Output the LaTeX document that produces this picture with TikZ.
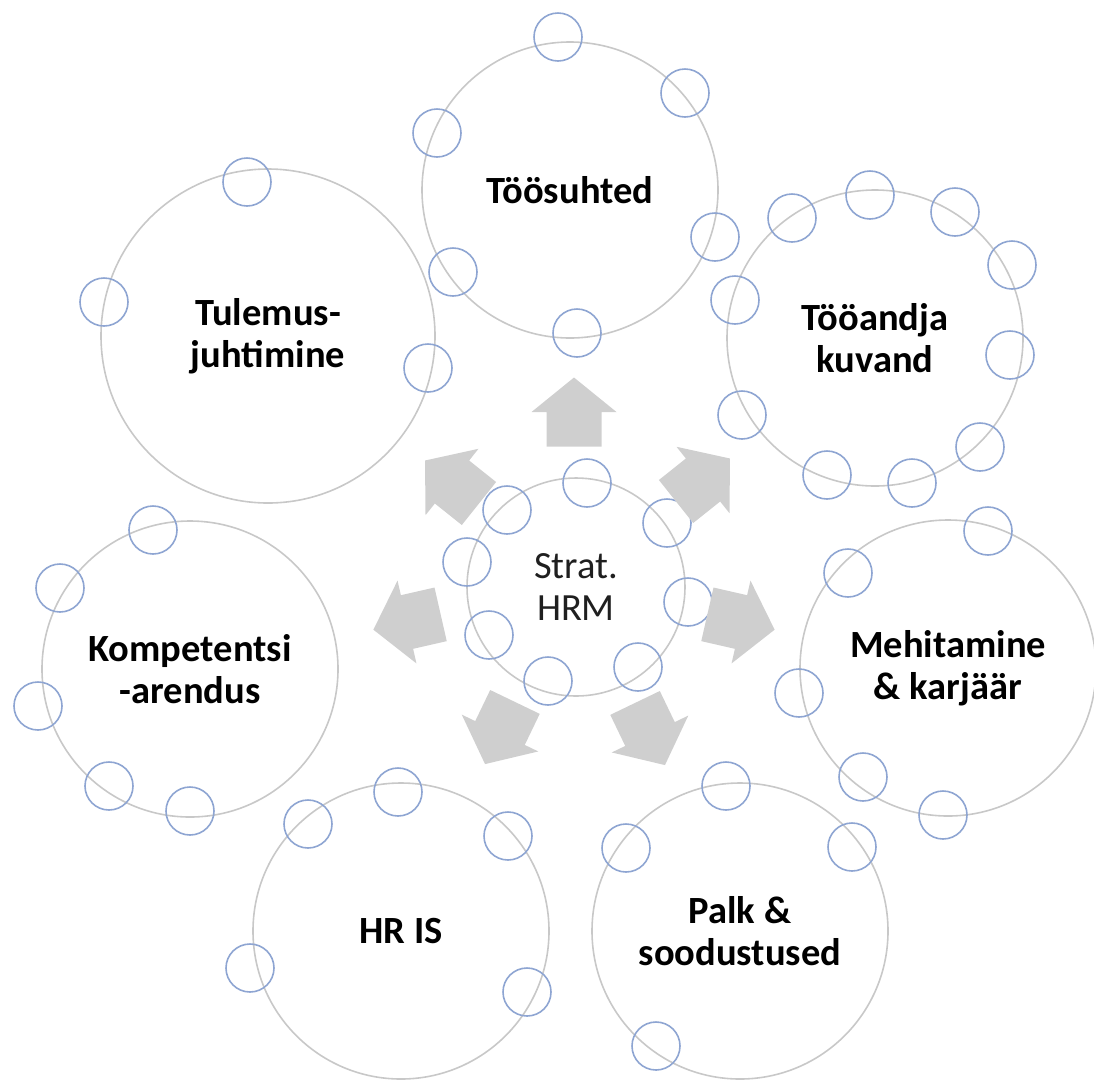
\documentclass[tikz,border=0pt]{standalone}
\usepackage{fontspec}
\setmainfont{Carlito}
\definecolor{ringgray}{HTML}{C8C8C8}
\definecolor{dotblue}{HTML}{8EA5D2}
\definecolor{arrowgray}{HTML}{CFCFCF}
\begin{document}
\begin{tikzpicture}[x=1pt,yscale=-1,y=1pt,
  area/.style={circle, draw=ringgray, line width=1.6pt, minimum size=296pt,
    inner sep=0pt, align=center, text=black,
    font=\bfseries\fontsize{38.5}{42}\selectfont},
  core/.style={area, minimum size=218pt, text=black!88,
    font=\fontsize{38.5}{42}\selectfont},
  dot/.style={draw=dotblue, line width=1.6pt},
  blockarrow/.pic={\fill[arrowgray] (-34.5,-27.5) -- (0,-27.5) -- (0,-42.5)
    -- (34.5,0) -- (0,42.5) -- (0,27.5) -- (-34.5,27.5) -- cycle;}]
\useasboundingbox (0,0) rectangle (1094,1080);

% outer topic circles
\node[area] (suhted)  at (570,190) {Töösuhted};
\node[area] (kuvand)  at (875,338) {Tööandja\\kuvand};
\node[area] (mehit)   at (948,668) {Mehitamine\\\& karjäär};
\node[area] (palk)    at (740,931) {Palk \&\\soodustused};
\node[area] (hris)    at (401,931) {HR IS};
\node[area] (komp)    at (190,669) {Kompetentsi\\-arendus};
\node[area, minimum size=334pt] (tulemus) at (268,336) {Tulemus-\\juhtimine};

% centre circle
\node[core] (strat) at (576,587) {Strat.\\HRM};

% small rings sitting on each circle
\foreach \p in {(558,37),(685,93),(437,133),(715,237),(453,272),(577,333)}
  \draw[dot] \p circle[radius=24];
\foreach \p in {(792,218),(870,195),(955,212),(1012,265),(735,300),(1010,355),
                (742,415),(980,447),(827,475),(912,483)}
  \draw[dot] \p circle[radius=24];
\foreach \p in {(247,182),(104,302),(428,368)}
  \draw[dot] \p circle[radius=24];
\foreach \p in {(153,530),(60,588),(38,706),(109,786),(190,811)}
  \draw[dot] \p circle[radius=24];
\foreach \p in {(988,531),(848,573),(799,693),(863,777),(943,815)}
  \draw[dot] \p circle[radius=24];
\foreach \p in {(398,792),(308,824),(508,836),(250,968),(527,992)}
  \draw[dot] \p circle[radius=24];
\foreach \p in {(726,786),(626,848),(852,847),(656,1046)}
  \draw[dot] \p circle[radius=24];
\foreach \p in {(587,483),(507,510),(667,523),(467,562),(688,602),(489,635),
                (548,681),(638,667)}
  \draw[dot] \p circle[radius=24];

% block arrows radiating from the centre
\pic[rotate=90]      at (574,412) {blockarrow};
\pic[rotate=141.43]  at (452,482) {blockarrow};
\pic[rotate=38.57]   at (703,480) {blockarrow};
\pic[rotate=-12.86]  at (741,622) {blockarrow};
\pic[rotate=-167.14] at (407,622) {blockarrow};
\pic[rotate=-115.71] at (500,733) {blockarrow};
\pic[rotate=-64.29]  at (650,734) {blockarrow};
\end{tikzpicture}
\end{document}
